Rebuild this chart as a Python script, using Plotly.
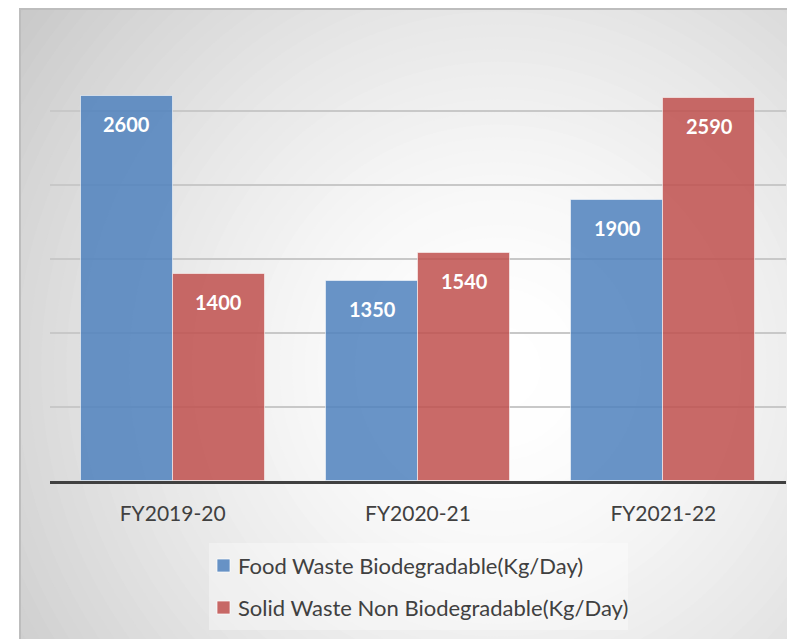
import plotly.graph_objects as go

categories = ["FY2019-20", "FY2020-21", "FY2021-22"]
food_waste = [2600, 1350, 1900]
solid_waste = [1400, 1540, 2590]
series_names = ["Food Waste Biodegradable(Kg/Day)", "Solid Waste Non Biodegradable(Kg/Day)"]
series_colors = ["rgba(79,129,189,0.85)", "rgba(192,80,77,0.85)"]

# figure sits inside the page's 8px body margin
W, H = 787, 631
ML, MR, MT, MB = 42, 9, 29, 158
PW, PH = W - ML - MR, H - MT - MB

def px(x):
    return (x - ML) / PW

def py(y):
    return (H - MB - y) / PH

xs = list(range(len(categories)))
bw = 0.375

fig = go.Figure()
for vals, name, col, off in ((food_waste, series_names[0], series_colors[0], -bw),
                             (solid_waste, series_names[1], series_colors[1], 0)):
    fig.add_trace(go.Bar(
        x=xs, y=vals, name=name, width=bw, offset=off,
        marker=dict(color=col, line=dict(color="rgba(255,255,255,0.55)", width=1)),
        hoverinfo="y", showlegend=False))

annotations = []
for i in xs:
    for val, off in ((food_waste[i], -bw / 2), (solid_waste[i], bw / 2)):
        annotations.append(dict(
            x=i + off, y=val, xref="x", yref="y", text=str(val), showarrow=False,
            yanchor="middle", yshift=-28,
            font=dict(family="Lato", size=20, color="white", weight="bold")))

# background radial gradient
shapes = []
cx, cy = px(490), py(360)
n = 48
rmax, rmin = 620, 30
for k in range(n):
    t = k / (n - 1)
    r = rmax - (rmax - rmin) * t
    frac = (r - rmin) / (rmax - rmin)
    c = int(round(255 - 57 * frac ** 1.5))
    shapes.append(dict(
        type="circle", layer="below", xref="paper", yref="paper",
        xsizemode="pixel", ysizemode="pixel", xanchor=cx, yanchor=cy,
        x0=-r, x1=r, y0=-r, y1=r,
        fillcolor=f"rgb({c},{c},{c})", line=dict(width=0)))
# white outside the chart area (left strip)
shapes.append(dict(type="rect", layer="below", xref="paper", yref="paper",
                   x0=px(-5), x1=px(12), y0=py(H + 5), y1=py(-5),
                   fillcolor="white", line=dict(width=0)))
# border of chart area
shapes.append(dict(type="line", layer="below", xref="paper", yref="paper",
                   x0=px(12), x1=px(W + 5), y0=py(1), y1=py(1),
                   line=dict(color="#bdbdbd", width=2)))
shapes.append(dict(type="line", layer="below", xref="paper", yref="paper",
                   x0=px(12), x1=px(12), y0=py(H + 5), y1=py(0),
                   line=dict(color="#bdbdbd", width=2)))

# legend drawn manually
shapes.append(dict(type="rect", layer="below", xref="paper", yref="paper",
                   x0=px(201), x1=px(620), y0=py(622), y1=py(535),
                   fillcolor="rgba(255,255,255,0.35)", line=dict(width=0)))
row_y = [557, 599]
for name, col, ry in zip(series_names, series_colors, row_y):
    shapes.append(dict(type="rect", layer="above", xref="paper", yref="paper",
                       x0=px(209), x1=px(222), y0=py(ry + 7), y1=py(ry - 6),
                       fillcolor=col, line=dict(color="rgba(255,255,255,0.7)", width=1)))
    annotations.append(dict(
        x=px(228), y=py(ry), xref="paper", yref="paper", text=name, showarrow=False,
        xanchor="left", yanchor="middle",
        font=dict(family="Lato", size=22, color="#404040")))

fig.update_layout(
    width=W, height=H,
    margin=dict(l=ML, r=MR, t=MT, b=MB, pad=0),
    paper_bgcolor="white",
    plot_bgcolor="rgba(0,0,0,0)",
    barmode="overlay",
    showlegend=False,
    xaxis=dict(
        range=[-0.5, 2.5], tickmode="array", tickvals=xs, ticktext=categories,
        showline=True, linecolor="#404040", linewidth=3,
        ticks="outside", ticklen=12, tickcolor="rgba(0,0,0,0)",
        showgrid=False, zeroline=False,
        tickfont=dict(family="Lato", size=21, color="#404040")),
    yaxis=dict(
        range=[0, 3000], dtick=500, showticklabels=False,
        showgrid=True, gridcolor="#c8c8c8", gridwidth=1.5, zeroline=False),
    annotations=annotations,
    shapes=shapes,
    bargap=0,
)

fig.write_html("out.html")
